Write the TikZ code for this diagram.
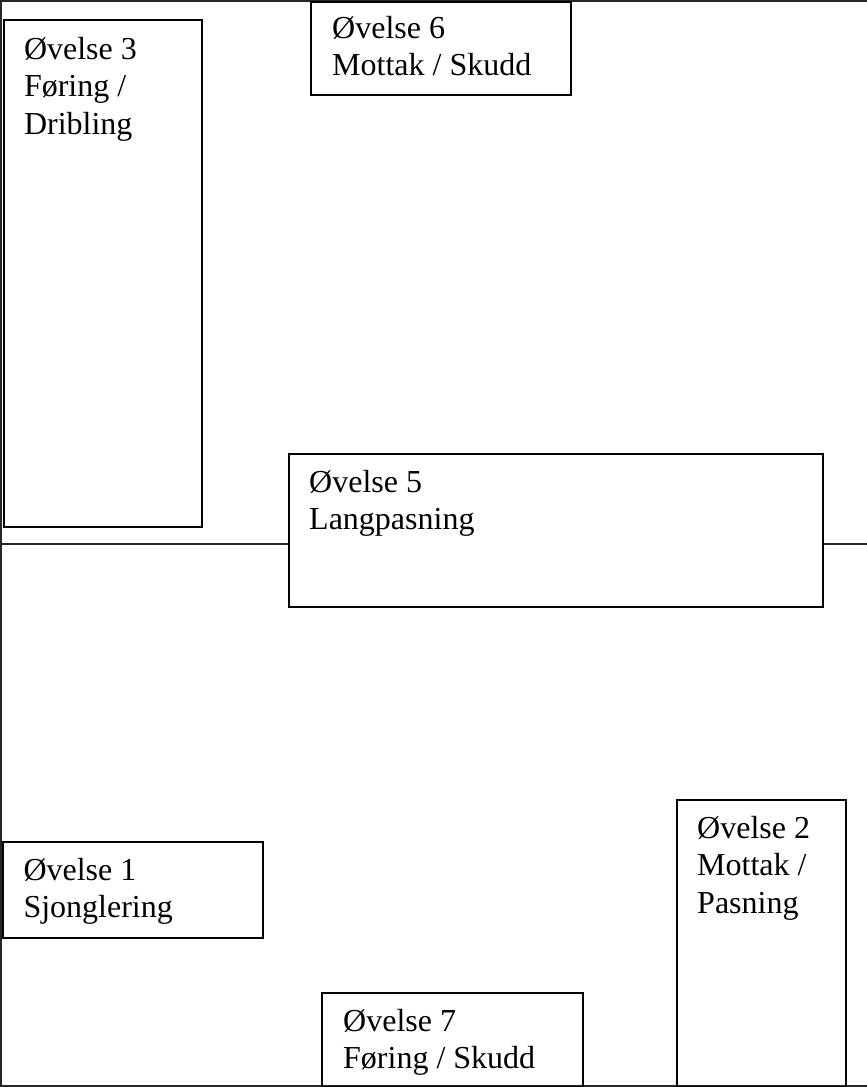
\documentclass[tikz,border=0pt]{standalone}
\usepackage{fontspec}
\setmainfont{Liberation Serif}
\begin{document}
\begin{tikzpicture}[x=1pt,y=-1pt,
  box/.style={draw, line width=1.6pt, inner sep=0pt, rectangle, anchor=north west},
  field/.style={line width=1.4pt, black!85},
  lbl/.style={font=\fontsize{32}{37.5}\selectfont, align=left, inner sep=0pt, anchor=north west}]
\useasboundingbox (0,0) rectangle (867,1087);
% field outline
\coordinate (fTL) at (1,1);
\coordinate (fBL) at (1,1086);
\coordinate (fTR) at (867,1);
\coordinate (fBR) at (867,1086);
\draw[field] (fTR) -- (fTL) -- (fBL) -- (fBR);
% boxes
\node[box, minimum width=197.7pt, minimum height=507pt] (b3) at (3.3,19) {};
\node[box, fill=white, minimum width=260pt, minimum height=93pt] (b6) at (310,1) {};
\node[box, minimum width=534pt, minimum height=153pt] (b5) at (288,453) {};
\node[box, minimum width=259.7pt, minimum height=96pt] (b1) at (2.3,841) {};
\node[box, minimum width=169pt, minimum height=287pt] (b2) at (676,799) {};
\node[box, minimum width=261pt, minimum height=94pt] (b7) at (321,992) {};
% midline
\coordinate (mL) at (1,544);
\coordinate (mR) at (867,544);
\draw[field] (mL) -- (mL -| b5.west);
\draw[field] (b5.east |- mR) -- (mR);
% labels
\node[lbl] (t3) at ([shift={(20.5,18)}]b3.north west) {Øvelse 3\\Føring /\\Dribling};
\node[lbl] (t6) at ([shift={(22,15)}]b6.north west) {Øvelse 6\\Mottak / Skudd};
\node[lbl] (t5) at ([shift={(21,17)}]b5.north west) {Øvelse 5\\Langpasning};
\node[lbl] (t1) at ([shift={(21,17)}]b1.north west) {Øvelse 1\\Sjonglering};
\node[lbl] (t2) at ([shift={(21,17)}]b2.north west) {Øvelse 2\\Mottak /\\Pasning};
\node[lbl] (t7) at ([shift={(22,17)}]b7.north west) {Øvelse 7\\Føring / Skudd};
\end{tikzpicture}
\end{document}
